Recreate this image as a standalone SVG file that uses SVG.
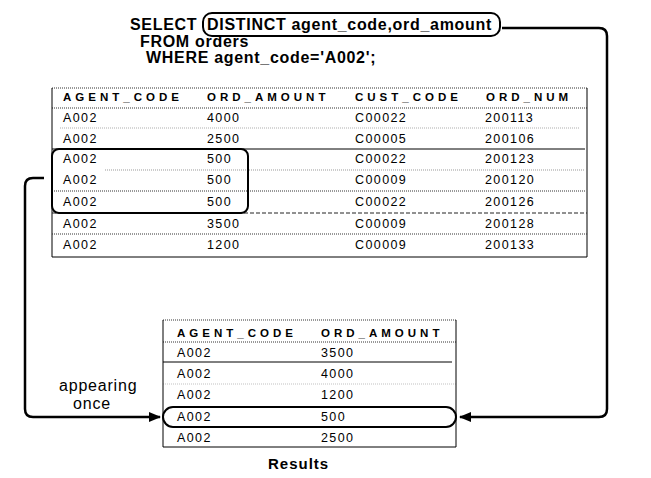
<svg xmlns="http://www.w3.org/2000/svg" width="651" height="478" viewBox="0 0 651 478">
<defs>
<style>
.sql{font-family:"Liberation Sans",Arial,sans-serif;font-size:16px;font-weight:bold;letter-spacing:0.7px;fill:#000}
.hd{font-family:"Liberation Sans",Arial,sans-serif;font-size:11.5px;font-weight:bold;letter-spacing:4px;fill:#000}
.td{font-family:"Liberation Sans",Arial,sans-serif;font-size:12.5px;letter-spacing:1.4px;fill:#000}
.lbl{font-family:"Liberation Sans",Arial,sans-serif;font-size:16px;letter-spacing:0.8px;fill:#000}
.res{font-family:"Liberation Sans",Arial,sans-serif;font-size:15px;font-weight:bold;letter-spacing:1px;fill:#000}
.b{stroke:#000;stroke-width:1;fill:none}
.dot{stroke:#333;stroke-width:1;stroke-dasharray:1 1;fill:none}
.dash{stroke:#222;stroke-width:1;stroke-dasharray:4 2;fill:none}
.hl{stroke:#000;stroke-width:2;fill:none}
.conn{stroke:#000;stroke-width:2.5;fill:none}
</style>
<marker id="arr" viewBox="0 0 10 10" refX="9" refY="5" markerWidth="5" markerHeight="5" orient="auto" markerUnits="strokeWidth">
<path d="M0,1 L10,5 L0,9 z" fill="#000"/>
</marker>
</defs>

<g id="query">
<text class="sql" x="130" y="30">SELECT</text>
<rect class="hl" x="203" y="13" width="297" height="23" rx="9"/>
<text class="sql" x="207" y="30">DISTINCT agent_code,ord_amount</text>
<text class="sql" x="140" y="47">FROM orders</text>
<text class="sql" x="146" y="63">WHERE agent_code='A002';</text>
</g>

<g id="orders-table">
<line class="dot" x1="52" y1="88" x2="587" y2="88"/>
<line class="dot" x1="52" y1="108" x2="587" y2="108"/>
<line class="b" x1="52" y1="88" x2="52" y2="257"/>
<line class="b" x1="587" y1="88" x2="587" y2="257"/>
<line class="dot" x1="60" y1="128" x2="580" y2="128" stroke-opacity="0.4"/>
<line class="b" x1="52" y1="149" x2="585" y2="149"/>
<line class="dot" x1="105" y1="170" x2="585" y2="170" stroke-opacity="0.5"/>
<line class="dot" x1="52" y1="191" x2="585" y2="191"/>
<line class="dash" x1="52" y1="213" x2="587" y2="213"/>
<line class="dot" x1="52" y1="234" x2="587" y2="234"/>
<line class="b" x1="52" y1="257" x2="587" y2="257"/>
<text class="hd" x="63" y="101">AGENT_CODE</text>
<text class="hd" x="207" y="101">ORD_AMOUNT</text>
<text class="hd" x="355" y="101">CUST_CODE</text>
<text class="hd" x="486" y="101">ORD_NUM</text>
<text class="td" x="63" y="122">A002</text><text class="td" x="207" y="122">4000</text><text class="td" x="355" y="122">C00022</text><text class="td" x="485" y="122">200113</text>
<text class="td" x="63" y="143">A002</text><text class="td" x="207" y="143">2500</text><text class="td" x="355" y="143">C00005</text><text class="td" x="485" y="143">200106</text>
<text class="td" x="63" y="163">A002</text><text class="td" x="207" y="163">500</text><text class="td" x="355" y="163">C00022</text><text class="td" x="485" y="163">200123</text>
<text class="td" x="63" y="184">A002</text><text class="td" x="207" y="184">500</text><text class="td" x="355" y="184">C00009</text><text class="td" x="485" y="184">200120</text>
<text class="td" x="63" y="206">A002</text><text class="td" x="207" y="206">500</text><text class="td" x="355" y="206">C00022</text><text class="td" x="485" y="206">200126</text>
<text class="td" x="63" y="228">A002</text><text class="td" x="207" y="228">3500</text><text class="td" x="355" y="228">C00009</text><text class="td" x="485" y="228">200128</text>
<text class="td" x="63" y="249">A002</text><text class="td" x="207" y="249">1200</text><text class="td" x="355" y="249">C00009</text><text class="td" x="485" y="249">200133</text>
<rect class="hl" x="52" y="149" width="196" height="64" rx="7"/>
</g>

<g id="results-table">
<line class="dot" x1="163" y1="320" x2="456" y2="320"/>
<line class="dot" x1="163" y1="342" x2="456" y2="342"/>
<line class="b" x1="163" y1="320" x2="163" y2="447"/>
<line class="b" x1="456" y1="320" x2="456" y2="447"/>
<line class="b" x1="163" y1="362" x2="452" y2="362"/>
<line class="dot" x1="163" y1="384" x2="456" y2="384" stroke-opacity="0.3"/>
<line class="b" x1="163" y1="447" x2="456" y2="447"/>
<text class="hd" x="177" y="337">AGENT_CODE</text>
<text class="hd" x="321" y="337">ORD_AMOUNT</text>
<text class="td" x="177" y="357">A002</text><text class="td" x="321" y="357">3500</text>
<text class="td" x="177" y="378">A002</text><text class="td" x="321" y="378">4000</text>
<text class="td" x="177" y="399">A002</text><text class="td" x="321" y="399">1200</text>
<text class="td" x="177" y="421">A002</text><text class="td" x="321" y="421">500</text>
<text class="td" x="177" y="442">A002</text><text class="td" x="321" y="442">2500</text>
<rect class="hl" x="163" y="407" width="293" height="20" rx="10"/>
</g>

<g id="labels">
<text class="lbl" x="59" y="391">appearing</text>
<text class="lbl" x="73" y="409">once</text>
<text class="res" x="268" y="469">Results</text>
</g>

<g id="connectors">
<path class="conn" d="M502 28 H599 Q607 28 607 36 V409 Q607 417 599 417 H460" marker-end="url(#arr)"/>
<path class="conn" d="M44 178 H33 Q25 178 25 186 V409 Q25 417 33 417 H160" marker-end="url(#arr)"/>
</g>
</svg>
